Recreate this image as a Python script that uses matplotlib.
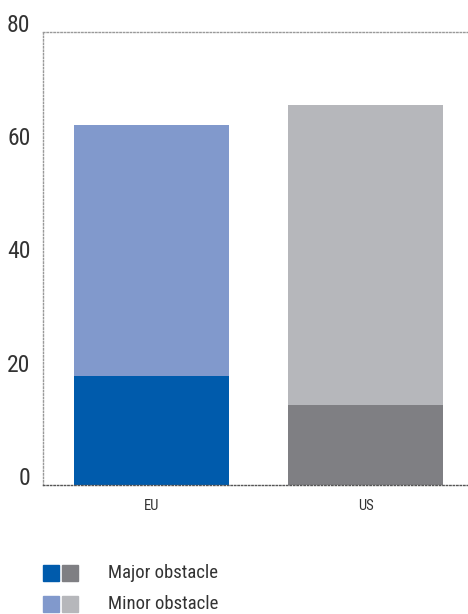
import matplotlib
matplotlib.use("Agg")
from matplotlib import pyplot as plt
from matplotlib.patches import Rectangle
from matplotlib import font_manager

# condensed face if one is there
names = {f.name for f in font_manager.fontManager.ttflist}
fam = ['DejaVu Sans']
for cand in ['Liberation Sans Narrow', 'Roboto Condensed', 'Open Sans Condensed']:
    if cand in names:
        fam = [cand, 'DejaVu Sans']
        break
plt.rcParams['font.family'] = fam
plt.rcParams['font.stretch'] = 'condensed'

regions = ["EU", "US"]
major = [19.3, 14.1]
minor_total = [63.6, 67.1]
major_colors = ["#005bac", "#7f7f83"]
minor_colors = ["#8199cc", "#b6b7bb"]
yticks = [0, 20, 40, 60, 80]
legend_labels = ["Major obstacle", "Minor obstacle"]

minor = [t - m for t, m in zip(minor_total, major)]

fig = plt.figure(figsize=(4.68, 6.14), dpi=100)
ax = fig.add_axes([0.092, 0.21, 0.906, 0.738])

x = range(len(regions))
ax.bar(x, major, width=0.724, color=major_colors, zorder=2)
ax.bar(x, minor, bottom=major, width=0.724, color=minor_colors, zorder=2)

ax.set_xlim(-0.507, 1.474)
ax.set_ylim(0, 80)
ax.set_yticks(yticks)
ax.set_yticklabels([str(v) for v in yticks], fontsize=17, color="#333333", va="baseline")
ax.set_xticks(list(x))
ax.set_xticklabels(regions, fontsize=10.5, color="#333333")
ax.tick_params(axis="both", length=0)
ax.tick_params(axis="y", pad=9)
ax.tick_params(axis="x", pad=10)

ax.spines["right"].set_visible(False)
for side in ["left", "top"]:
    ax.spines[side].set_linestyle((0, (1, 1.5)))
    ax.spines[side].set_color("#999999")
    ax.spines[side].set_linewidth(1)
ax.spines["bottom"].set_linestyle((0, (1, 1.5)))
ax.spines["bottom"].set_color("#555555")
ax.spines["bottom"].set_linewidth(1)

# legend drawn by hand
W, H = 468, 614
rows_y = [565, 596]
for i, lab in enumerate(legend_labels):
    cols = [major_colors, minor_colors][i]
    for j, c in enumerate(cols):
        x0 = 43 + j * 19
        fig.patches.append(Rectangle((x0 / W, 1 - (rows_y[i] + 16) / H), 16 / W, 16 / H,
                                     transform=fig.transFigure, color=c, figure=fig))
    fig.text(108 / W, 1 - (rows_y[i] + 8) / H, lab, fontsize=13.5, color="#333333", va="center")

fig.savefig("out.png", dpi=100)
